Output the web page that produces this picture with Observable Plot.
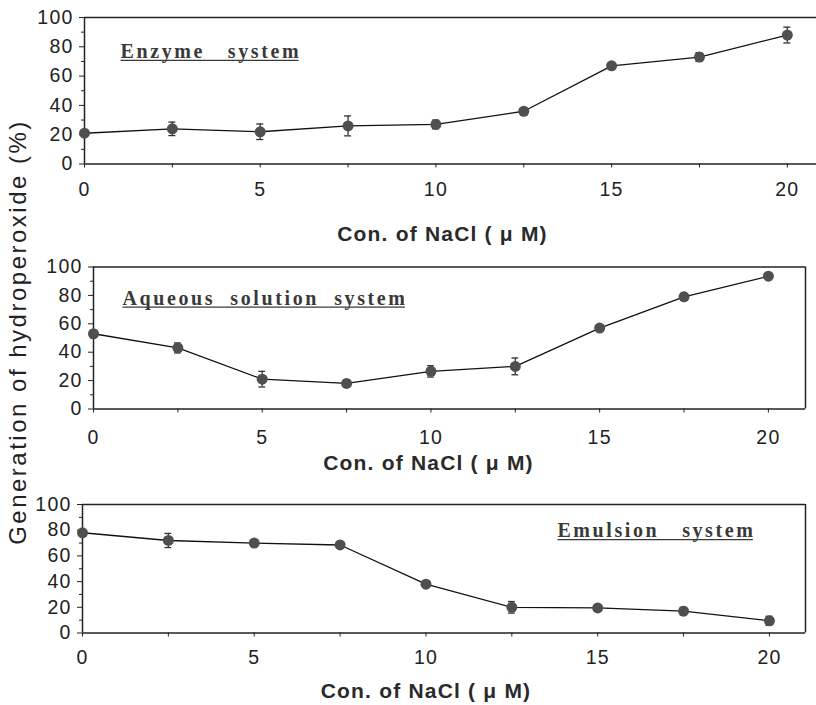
<!DOCTYPE html>
<html><head><meta charset="utf-8">
<script src="https://cdn.jsdelivr.net/npm/d3@7"></script>
<script src="https://cdn.jsdelivr.net/npm/@observablehq/plot@0.6"></script>
<style>
body{margin:0;background:#fff;}
#wrap{position:relative;width:816px;height:705px;overflow:hidden;background:#fff;font-family:"Liberation Sans",Arial,sans-serif;}
.panel{position:absolute;left:0;z-index:1;}
#ylab{position:absolute;left:18px;top:332px;transform:translate(-50%,-50%) rotate(-90deg);white-space:nowrap;font-size:24px;letter-spacing:2.5px;color:#222;line-height:1;z-index:5;}
</style></head><body><div id="wrap"><div id="ylab"></div></div>
<script>
const conc = [0, 2.5, 5, 7.5, 10, 12.5, 15, 17.5, 20];
const majorTicksX = [0, 5, 10, 15, 20];
const minorTicksX = [2.5, 7.5, 12.5, 17.5];
const majorTicksY = [0, 20, 40, 60, 80, 100];
const minorTicksY = [10, 30, 50, 70, 90];
const enzyme = [21, 24, 22, 26, 27, 36, 67, 73, 88];
const enzymeErr = [1, 4.6, 5.3, 6.8, 3, 2, 2, 3, 5.4];
const aqueous = [53, 43, 21, 18, 26.5, 30, 57, 79, 93.5];
const aqueousErr = [1, 3.5, 5.5, 1.5, 4, 5.9, 1, 2.5, 1];
const emulsion = [78, 72, 70, 68.5, 38, 20, 19.5, 17, 9.5];
const emulsionErr = [1.5, 5.5, 1.5, 1.5, 1.5, 4.5, 2, 3, 3.5];
const panelTitles = ["Enzyme   system", "Aqueous  solution  system", "Emulsion   system"];
const xTitle = "Con. of NaCl ( \u03bc M)";
const yTitle = "Generation of hydroperoxide (%)";

document.getElementById("ylab").textContent = yTitle;

const panels = [
  {values: enzyme, errs: enzymeErr, title: panelTitles[0], top: 0, height: 250,
   mt: 17, mb: 86.5, ml: 84, mr: 0, xMax: 20.83, border: false,
   tickPad: 14.5, titleDy: 70.5, titleDx: -8, lab: "left", labDx: 36, labDy: 40.5},
  {values: aqueous, errs: aqueousErr, title: panelTitles[1], top: 250, height: 230,
   mt: 16.5, mb: 71.5, ml: 93, mr: 11, xMax: 21.1, border: true,
   tickPad: 17.5, titleDy: 54, titleDx: -21, lab: "left", labDx: 29, labDy: 37.8},
  {values: emulsion, errs: emulsionErr, title: panelTitles[2], top: 480, height: 225,
   mt: 24, mb: 72.5, ml: 82, mr: 11, xMax: 21.05, border: true,
   tickPad: 13.5, titleDy: 58.5, titleDx: -18, lab: "right", labDx: -50, labDy: 32.7}
];

const ink = "#222";
const wrap = document.getElementById("wrap");

for (const p of panels) {
  const data = conc.map((c, i) => ({x: c, y: p.values[i], e: p.errs[i]}));
  const marks = [
    Plot.ruleY([0, 100], {stroke: ink, strokeWidth: 1.5}),
    Plot.ruleX([0], {stroke: ink, strokeWidth: 1.5}),
    p.border ? Plot.ruleX([p.xMax], {stroke: ink, strokeWidth: 1.5}) : null,
    Plot.axisX({ticks: majorTicksX, tickSize: 4, tickPadding: p.tickPad, fontSize: 19.5, label: null, tickFormat: d => String(d), stroke: ink, fill: ink}),
    Plot.axisX({ticks: minorTicksX, tickSize: 4, tickFormat: () => "", label: null, stroke: ink}),
    Plot.axisY({ticks: majorTicksY, tickSize: 5, tickPadding: 6, fontSize: 19.5, label: null, tickFormat: d => String(d), stroke: ink, fill: ink}),
    Plot.axisY({ticks: minorTicksY, tickSize: 3, tickFormat: () => "", label: null, stroke: ink}),
    Plot.line(data, {x: "x", y: "y", stroke: "#111", strokeWidth: 1.3}),
    Plot.ruleX(data, {x: "x", y1: d => d.y - d.e, y2: d => d.y + d.e, stroke: "#333", strokeWidth: 1.3}),
    Plot.ruleY(data, {x1: d => d.x - 0.1, x2: d => d.x + 0.1, y: d => d.y + d.e, stroke: "#333", strokeWidth: 1.3}),
    Plot.ruleY(data, {x1: d => d.x - 0.1, x2: d => d.x + 0.1, y: d => d.y - d.e, stroke: "#333", strokeWidth: 1.3}),
    Plot.dot(data, {x: "x", y: "y", r: 5.5, fill: "#4f4f4f"}),
    Plot.text([xTitle], {text: d => d, frameAnchor: "bottom", dy: p.titleDy, dx: p.titleDx, lineAnchor: "middle",
      fontSize: 21, fontWeight: "bold", fill: "#2a2a2a"}),
    Plot.text([p.title], {text: d => d, frameAnchor: p.lab === "left" ? "top-left" : "top-right",
      textAnchor: p.lab === "left" ? "start" : "end", lineAnchor: "bottom", dx: p.labDx, dy: p.labDy,
      fontFamily: "Liberation Serif, Times New Roman, serif", fontSize: 20, fontWeight: "bold", fill: "#3a3a3a"})
  ].filter(Boolean);

  const svg = Plot.plot({
    width: 816, height: p.height,
    marginTop: p.mt, marginBottom: p.mb, marginLeft: p.ml, marginRight: p.mr,
    x: {domain: [0, p.xMax]},
    y: {domain: [0, 100]},
    style: {background: "transparent", color: ink, fontFamily: "Liberation Sans, Arial, sans-serif", letterSpacing: "1.2px", overflow: "visible"},
    marks
  });
  const titles = d3.select(svg).selectAll("text")
    .filter(function () { return this.textContent === p.title; })
    .attr("xml:space", "preserve")
    .style("white-space", "pre")
    .style("letter-spacing", "2.6px");
  const div = document.createElement("div");
  div.className = "panel";
  div.style.top = p.top + "px";
  div.appendChild(svg);
  wrap.appendChild(div);
  // underline each panel title, measured from its rendered text
  titles.each(function () {
    const b = this.getBBox();
    const lineY = b.y + b.height - 2.6;
    d3.select(this.parentNode).append("line")
      .attr("x1", b.x).attr("x2", b.x + b.width - 2.6)
      .attr("y1", lineY).attr("y2", lineY)
      .attr("stroke", "#3a3a3a").attr("stroke-width", 1.3)
      .attr("transform", this.getAttribute("transform"));
  });
}
</script></body></html>
